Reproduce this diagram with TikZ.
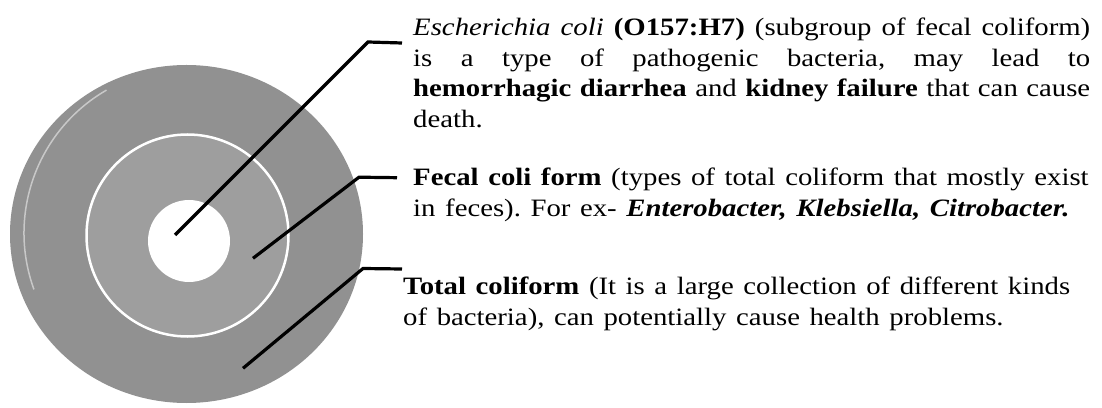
\documentclass[tikz,border=0pt]{standalone}
\usepackage{fontspec}
\setmainfont{Liberation Serif}
\usepackage{xcolor}
\usepackage{tikz}

\definecolor{ringgray}{gray}{0.57}
\definecolor{coregray}{gray}{0.62}
\newcommand{\fullline}[1]{\makebox[588.7pt][s]{\spaceskip=0.25em plus 2em minus 0.05em #1}}
\frenchspacing

\begin{document}
\begin{tikzpicture}[
    x=1pt, y=1pt,
    every node/.style={font=\fontsize{25}{30.5}\selectfont},
    desc/.style={anchor=base west, inner sep=0pt, xscale=1.15, align=left},
    pointer/.style={line width=3.2pt, black}
  ]

  \fill[white] (0,0) rectangle (1102,407);
  \useasboundingbox (0,0) rectangle (1102,407);

  % the three zones
  \fill[ringgray] (186.5,173) ellipse [x radius=176.5, y radius=169];
  \draw[white, opacity=0.5, line width=1.5pt] (189,174) ++(120:165) arc [start angle=120, end angle=200, radius=165];
  \fill[coregray] (187.5,171.5) circle [radius=100];
  \draw[white, line width=2.5pt] (187.5,171.5) circle [radius=101];
  \fill[white] (189,166) circle [radius=41];

  % descriptions
  \node[desc, text width=589pt] (ecoli) at (413,371) {%
    \fullline{\textit{Escherichia coli} \textbf{(O157:H7)} (subgroup of fecal coliform)}\\
    \fullline{is a type of pathogenic bacteria, may lead to}\\
    \fullline{\textbf{hemorrhagic diarrhea} and \textbf{kidney failure} that can cause}\\
    death.};
  \node[desc, text width=615pt] (fecal) at (413,221) {%
    \textbf{Fecal coli form} (types of total coliform that mostly exist\\
    in feces). For ex- \textbf{\textit{Enterobacter, Klebsiella, Citrobacter.}}};
  \node[desc, text width=615pt] (total) at (403,112) {%
    \textbf{Total coliform} (It is a large collection of different kinds\\
    of bacteria), can potentially cause health problems.};

  % pointers
  \coordinate (ecolipt) at (175,172);
  \coordinate (ecolikn) at (368,365);
  \coordinate (ecolitp) at (402,364);
  \coordinate (fecalpt) at (253,148.7);
  \coordinate (fecalkn) at (359,229.8);
  \coordinate (fecaltp) at (397,229.3);
  \coordinate (totalpt) at (243,38.7);
  \coordinate (totalkn) at (363,138.5);
  \coordinate (totaltp) at (402,138);

  \draw[pointer] (ecolipt) -- (ecolikn) -- (ecolitp);
  \draw[pointer] (fecalpt) -- (fecalkn) -- (fecaltp);
  \draw[pointer] (totalpt) -- (totalkn) -- (totaltp);

\end{tikzpicture}
\end{document}
